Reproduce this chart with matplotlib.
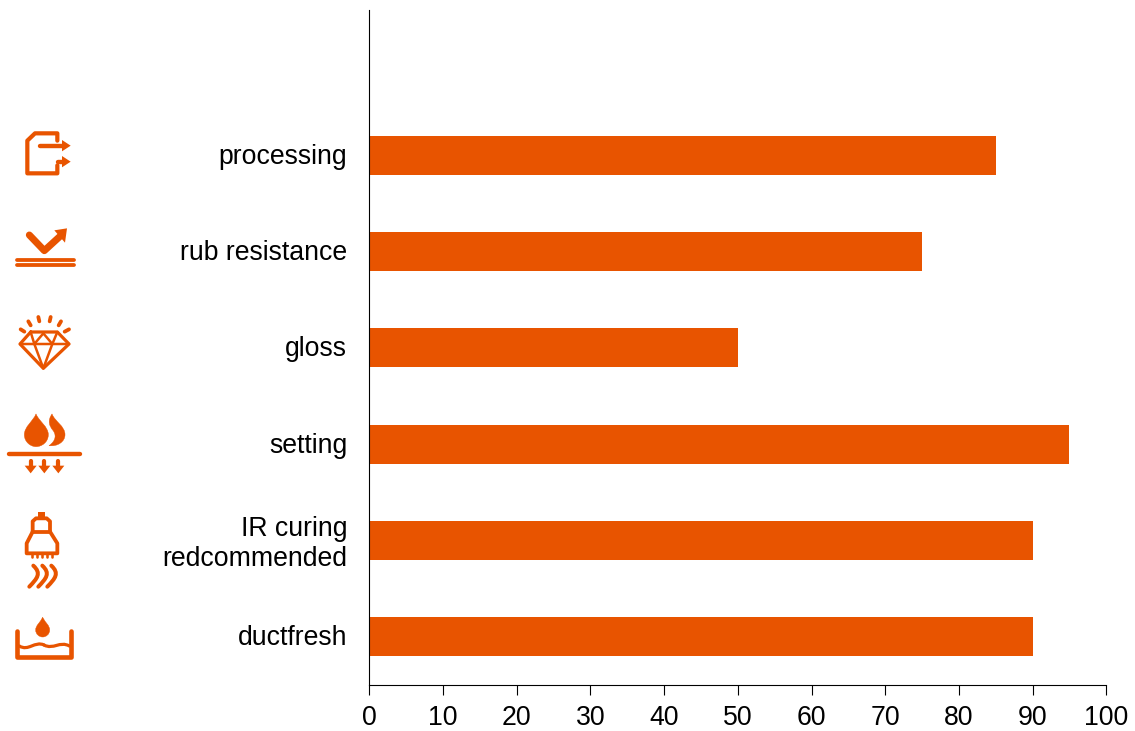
import matplotlib
matplotlib.use("Agg")
import matplotlib.pyplot as plt
from matplotlib.path import Path
from matplotlib.patches import PathPatch, Polygon, Rectangle
from matplotlib.transforms import ScaledTranslation

plt.rcParams['font.family'] = ['Liberation Sans', 'DejaVu Sans']

labels = ["ductfresh", "IR curing\nredcommended", "setting", "gloss", "rub resistance", "processing", ""]
values = [90, 90, 95, 50, 75, 85, 0]
xticks = [0, 10, 20, 30, 40, 50, 60, 70, 80, 90, 100]
orange = "#E85400"

fig = plt.figure(figsize=(11.35, 7.31), dpi=100)
W, H = 1135, 731
ax = fig.add_axes([369.3 / W, (H - 685) / H, 737 / W, 675 / H])
ax.barh(range(len(values)), values, height=0.405, color=orange)
ax.set_xlim(0, 100)
ax.set_ylim(-0.5, 6.51)
ax.set_xticks(xticks)
ax.set_yticks(range(len(labels)))
ax.set_yticklabels(labels, linespacing=1.2)
ax.tick_params(axis='x', labelsize=19.2, length=7.5, width=0.8, pad=7)
ax.tick_params(axis='y', labelsize=19.2, length=0, pad=16)
ax.spines['top'].set_visible(False)
ax.spines['right'].set_visible(False)
# nudge the category labels up a little
for t in ax.get_yticklabels():
    t.set_transform(t.get_transform() + ScaledTranslation(0, 1.5 / 100, fig.dpi_scale_trans))

# icons, drawn in pixels on an overlay
ic = fig.add_axes([0, 0, 1, 1])
ic.set_xlim(0, W)
ic.set_ylim(H, 0)
ic.axis('off')
ic.patch.set_alpha(0)


def line(pts, oy, w=3.8, closed=False):
    xy = [(x / 3, y / 3 + oy) for x, y in pts]
    if closed:
        xy.append(xy[0])
    ic.plot([p[0] for p in xy], [p[1] for p in xy], color=orange, lw=w * 0.72,
            solid_joinstyle='round', solid_capstyle='round')


def tri(pts, oy):
    ic.add_patch(Polygon([(x / 3, y / 3 + oy) for x, y in pts], color=orange, lw=0))


def curve(verts, codes, oy, fill=False, w=3.8):
    v = [(x / 3, y / 3 + oy) for x, y in verts]
    ic.add_patch(PathPatch(Path(v, codes), fc=orange if fill else 'none',
                           ec=orange, lw=0.3 if fill else w * 0.72, capstyle='round'))


# processing
line([(172, 62), (172, 40), (105, 40), (82, 62), (82, 160), (172, 160), (172, 136)], 120, 4.2)
line([(120, 77), (190, 77)], 120, 4.4)
line([(174, 125), (190, 125)], 120, 4.4)
tri([(186, 60), (212, 77), (186, 94)], 120)
tri([(186, 108), (212, 125), (186, 142)], 120)

# rub resistance
line([(88, 345), (133, 392), (180, 349)], 120, 7.0)
tri([(163, 331), (201, 325), (195, 368)], 120)
line([(51, 421), (222, 421)], 120, 3.8)
line([(51, 435), (222, 435)], 120, 3.8)

# gloss
line([(92, 636), (172, 636), (207, 672), (130, 745), (60, 672)], 120, 3.2, closed=True)
line([(60, 672), (207, 672)], 120, 2.5)
line([(92, 636), (103, 672), (130, 640), (157, 672), (172, 636)], 120, 2.5)
line([(103, 672), (130, 745), (157, 672)], 120, 2.5)
for a, b in [((62, 628), (73, 635)), ((85, 604), (92, 616)), ((115, 591), (118, 604)),
             ((152, 591), (149, 604)), ((183, 604), (176, 616)), ((207, 628), (194, 635))]:
    line([a, b], 120, 3.8)

# setting
M, C = Path.MOVETO, Path.CURVE4
curve([(108, 42), (98, 65), (73, 80), (73, 104), (73, 126), (92, 140), (108, 140),
       (126, 140), (145, 126), (145, 104), (145, 80), (118, 65), (108, 42)],
      [M, C, C, C, C, C, C, C, C, C, C, C, C], 400, fill=True)
curve([(156, 42), (165, 65), (195, 78), (195, 104), (195, 126), (172, 140), (147, 137),
       (168, 122), (170, 105), (158, 90), (148, 78), (142, 62), (156, 42)],
      [M, C, C, C, C, C, C, C, C, C, C, C, C], 400, fill=True)
line([(28, 162), (240, 162)], 400, 4.4)
for ax_x in [92, 133, 175]:
    line([(ax_x, 182), (ax_x, 200)], 400, 4.2)
    tri([(ax_x - 18, 197), (ax_x + 18, 197), (ax_x, 220)], 400)

# IR curing
ic.add_patch(Rectangle((114 / 3, 335 / 3 + 400), 22 / 3, 20 / 3, color=orange, lw=0))
line([(98, 395), (98, 364), (108, 355), (140, 355), (150, 364), (150, 395)], 400)
line([(98, 395), (150, 395)], 400)
line([(98, 395), (80, 430), (80, 460), (172, 460), (172, 430), (150, 395)], 400)
for dx in [95, 110, 125, 140, 155]:
    line([(dx, 462), (dx, 471)], 400, 2.6)
for s in [0, 27, 54]:
    curve([(100 + s, 497), (125 + s, 520), (112 + s, 535), (88 + s, 560)], [M, C, C, C], 400, w=4.0)

# ductfresh
line([(52, 692), (52, 770), (212, 770), (212, 692)], 400, 4.6)
curve([(58, 738), (85, 755), (105, 722), (132, 735)], [M, C, C, C], 400, w=3.2)
curve([(132, 735), (160, 750), (180, 722), (208, 738)], [M, C, C, C], 400, w=3.2)
curve([(128, 652), (120, 668), (107, 676), (107, 690), (107, 703), (118, 711), (128, 711),
       (138, 711), (149, 703), (149, 690), (149, 676), (136, 668), (128, 652)],
      [M, C, C, C, C, C, C, C, C, C, C, C, C], 400, fill=True)

fig.savefig("out.png", dpi=100)
